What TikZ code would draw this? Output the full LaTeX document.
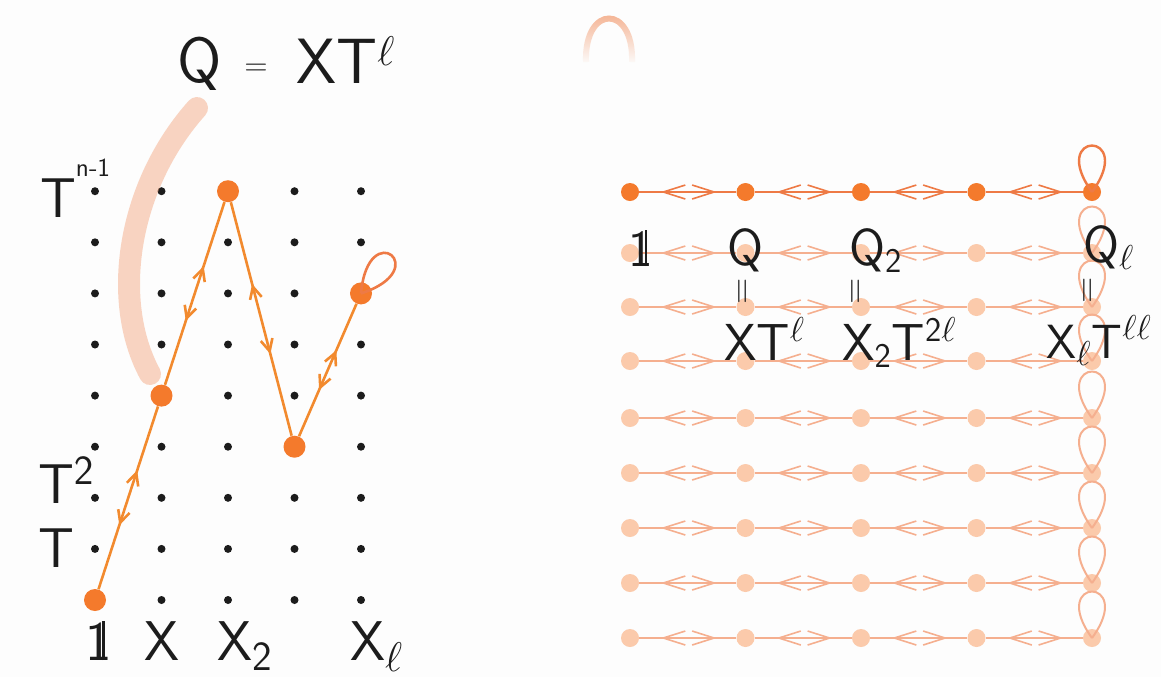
\documentclass[tikz,border=0pt]{standalone}
\usetikzlibrary{arrows.meta,decorations.markings,fadings,positioning}
\definecolor{Paper}{HTML}{FDFDFD}
\definecolor{Ink}{HTML}{1C1C1C}
\definecolor{Tangerine}{HTML}{F28A2E}
\definecolor{Ember}{HTML}{F47A2C}
\definecolor{Coral}{HTML}{EE7A45}
\definecolor{Chalk}{HTML}{F3A27A}
\newcommand{\unitone}{\mbox{1\kern-0.17em\rule{0.05em}{0.69em}}}
\newcommand{\hsup}[1]{\raisebox{0.72em}{\fontsize{13}{13}\selectfont #1}}

\begin{document}
\begin{tikzpicture}[x=0.5pt,y=-0.5pt,every node/.style={font=\sffamily,text=Ink},
  dot/.style={circle,fill=Ink,inner sep=0pt,minimum size=4pt},
  blob/.style={circle,fill=Ember,inner sep=0pt,minimum size=11pt},
  rblob/.style={circle,fill=Ember,inner sep=0pt,minimum size=9pt},
  fblob/.style={circle,fill=Ember!40,inner sep=0pt,minimum size=9pt},
  lbl/.style={font=\sffamily\fontsize{28}{30}\selectfont},
  rlbl/.style={font=\sffamily\fontsize{26}{28}\selectfont},
  biglbl/.style={font=\sffamily\fontsize{32}{34}\selectfont},
  eqv/.style={rotate=90,font=\sffamily\fontsize{18}{18}\selectfont},
  walk/.style={Tangerine,line width=1.3pt,postaction=decorate,decoration={markings,
    mark=at position .35 with {\arrowreversed{Straight Barb[length=6pt,width=6pt]}},
    mark=at position .65 with {\arrow{Straight Barb[length=6pt,width=6pt]}}}},
  rowline/.style={line width=.8pt,postaction=decorate,decoration={markings,
    mark=at position .22 with {\arrowreversed{Straight Barb[length=11pt,width=7pt]}},
    mark=at position .80 with {\arrow{Straight Barb[length=11pt,width=7pt]}}}}]
\useasboundingbox (0,0) rectangle (1161,677);
\fill[Paper] (0,0) rectangle (1161,677);

% left: grid of monomials
\foreach \c in {0,...,4}
  \foreach \r in {0,...,8}
    \node[dot] (d\c\r) at ({95+66.5*\c},{600-51.1*\r}) {};
\draw[Chalk,line width=11pt,opacity=.45,line cap=round] (197,108) .. controls (128,185) and (110,300) .. (150,374);
\node[blob] (p0) at (d00) {}; \node[blob] (p1) at (d14) {}; \node[blob] (p2) at (d28) {};
\node[blob] (p3) at (d33) {}; \node[blob] (p4) at (d46) {};
\draw[walk] (p0) -- (p1); \draw[walk] (p1) -- (p2); \draw[walk] (p2) -- (p3); \draw[walk] (p3) -- (p4);
\draw[Coral,line width=1.3pt] (p4.center) .. controls +(7,-78) and +(74,-24) .. (p4.center);

\node[biglbl] (q) at (200,64) {Q}; \node[font=\sffamily\fontsize{16}{16}\selectfont] (eq) at (256,70) {=};
\node[biglbl] (xt) at (346,60) {XT$^{\ell}$};
\node[lbl,anchor=base west] (tn) at (33,217) {T\hsup{n-1}};
\node[lbl,anchor=base west] (t2) at (31,503) {T$^{\mathsf 2}$};
\node[lbl,anchor=base west] (t1) at (31,567) {T};
\node[lbl,anchor=base] (one) at (95,660) {\unitone};
\node[lbl,anchor=base] (x1) at (162,660) {X};
\node[lbl,anchor=base west] (x2) at (210,660) {X$_{\mathsf 2}$};
\node[lbl,anchor=base west] (xl) at (343,660) {X$_\ell$};

% right: the orbit rows
\draw[Chalk,line width=3pt,path fading=south] (586,62) .. controls (584,4) and (634,4) .. (632,62);
\foreach \c in {0,...,4}
  \node[rblob] (r-\c-0) at ({630+115.5*\c},192) {};
\foreach \r/\ry in {1/253,2/307,3/361,4/418,5/473,6/528,7/583,8/638}
  \foreach \c in {0,...,4}
    \node[fblob] (r-\c-\r) at ({630+115.5*\c},\ry) {};
\foreach \c/\n in {0/1,1/2,2/3,3/4}
  \draw[rowline,Coral] (r-\c-0) -- (r-\n-0);
\foreach \r in {1,...,8}
  \foreach \c/\n in {0/1,1/2,2/3,3/4}
    \draw[rowline,Coral!60] (r-\c-\r) -- (r-\n-\r);
\draw[Coral,line width=1.2pt] (r-4-0.center) .. controls +(-45,-62) and +(45,-62) .. (r-4-0.center);
\foreach \r in {1,...,8}
  \draw[Coral!60,line width=1pt] (r-4-\r.center) .. controls +(-45,-62) and +(45,-62) .. (r-4-\r.center);

\node[rlbl,anchor=base] (rone) at (638,266) {\unitone};
\node[rlbl,anchor=base] (rq) at (746,265) {Q};
\node[rlbl,anchor=base west] (rq2) at (842,265) {Q$_{\mathsf 2}$};
\node[rlbl,anchor=base west] (rql) at (1076,262) {Q$_\ell$};
\node[eqv] (e1) at (745,291) {=}; \node[eqv] (e2) at (858,291) {=}; \node[eqv] (e3) at (1090,290) {=};
\node[rlbl,anchor=base west] (rx) at (717,360) {XT$^{\ell}$};
\node[rlbl,anchor=base west] (rx2) at (835,360) {X$_{\mathsf 2}$T$^{\mathsf 2\ell}$};
\node[rlbl,anchor=base west,font=\sffamily\fontsize{24}{26}\selectfont,inner sep=0pt] (rxl) at (1046,358) {X$_\ell$T$^{\ell\ell}$};
\end{tikzpicture}
\end{document}
